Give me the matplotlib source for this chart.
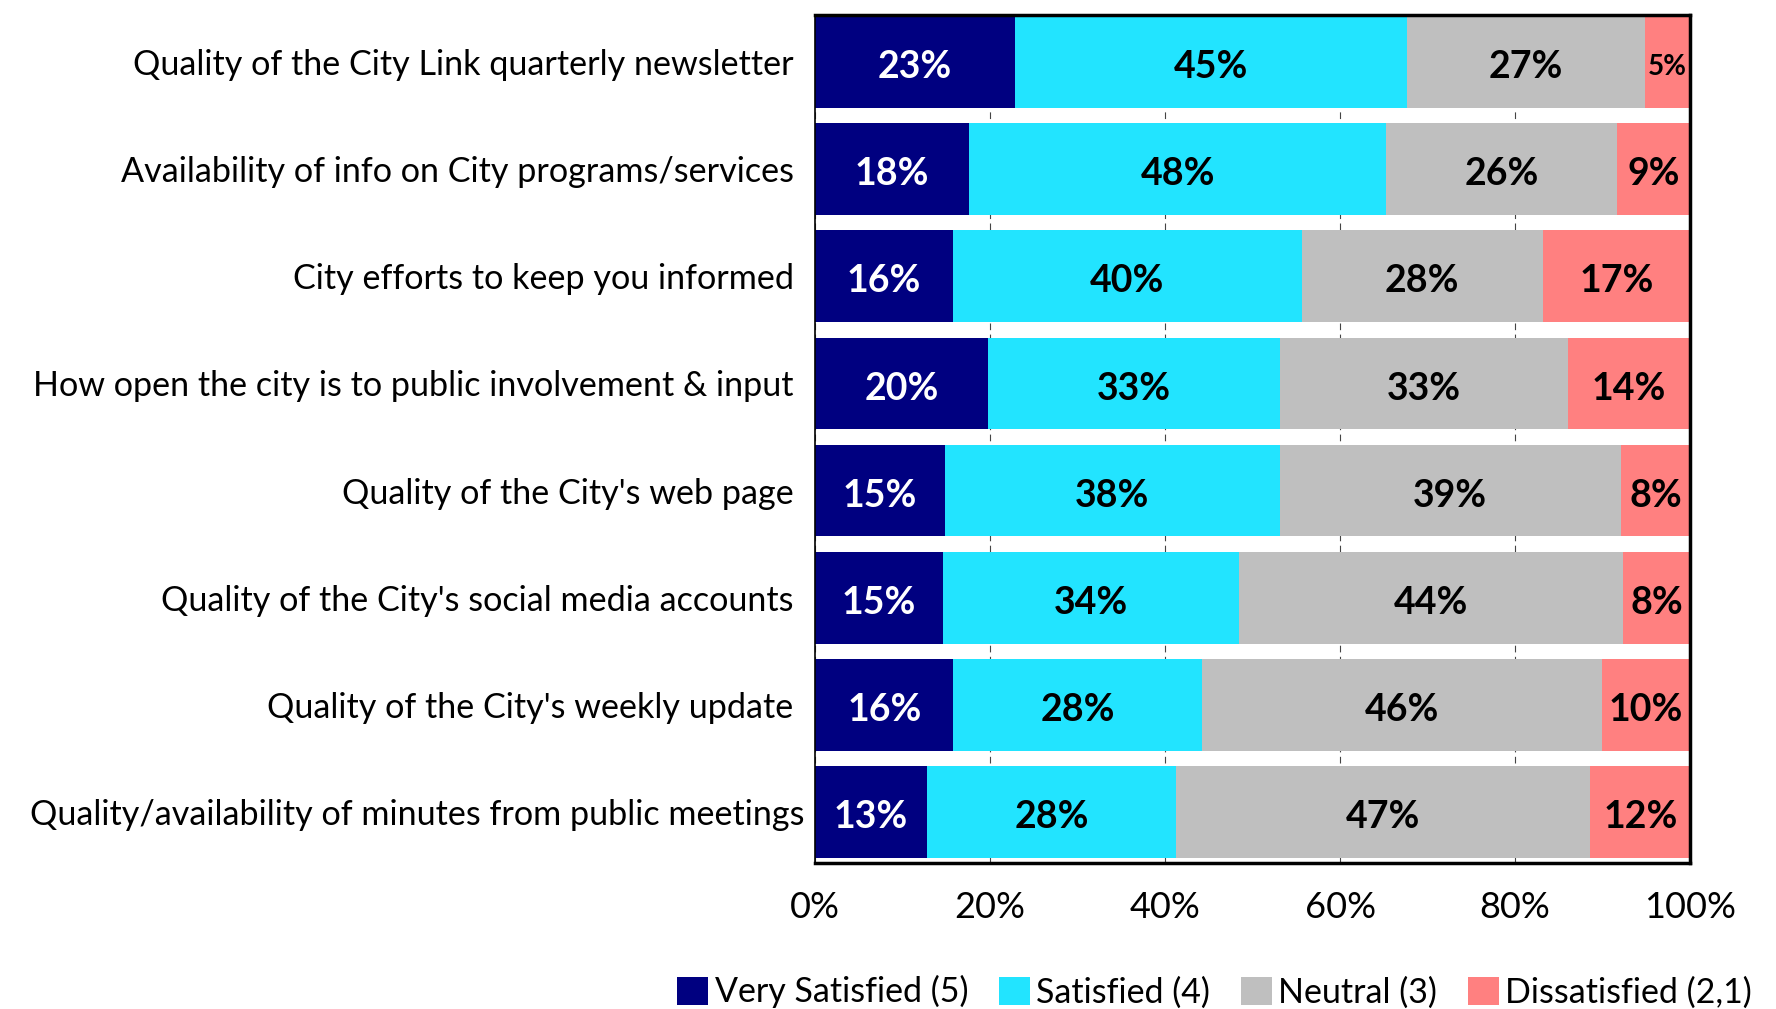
import numpy as np
import matplotlib
matplotlib.use('Agg')
import matplotlib.pyplot as plt
from matplotlib.transforms import ScaledTranslation

plt.rcParams['font.family'] = ['Lato', 'DejaVu Sans']

categories = ["Quality of the City Link quarterly newsletter",
              "Availability of info on City programs/services",
              "City efforts to keep you informed",
              "How open the city is to public involvement & input",
              "Quality of the City's web page",
              "Quality of the City's social media accounts",
              "Quality of the City's weekly update",
              "Quality/availability of minutes from public meetings"]
series = ["Very Satisfied (5)", "Satisfied (4)", "Neutral (3)", "Dissatisfied (2,1)"]
very_satisfied = [22.8, 17.6, 15.7, 19.7, 14.8, 14.6, 15.8, 12.8]
satisfied = [44.8, 47.7, 39.9, 33.4, 38.3, 33.9, 28.4, 28.4]
neutral = [27.2, 26.3, 27.6, 33.0, 39.0, 43.8, 45.7, 47.4]
dissatisfied = [5.2, 8.6, 16.8, 13.9, 7.9, 7.8, 10.1, 11.6]
colors = ['#000080', '#22E4FF', '#BFBFBF', '#FF8080']
text_colors = ['white', 'black', 'black', 'black']

fig = plt.figure(figsize=(17.76, 10.09), dpi=100)
ax = fig.add_axes([0.459, 0.1447, 0.4926, 0.8407])

y = np.arange(len(categories))
left = np.zeros(len(categories))
for vals, col, tc, name in zip([very_satisfied, satisfied, neutral, dissatisfied], colors, text_colors, series):
    vals = np.array(vals)
    ax.barh(y, vals, left=left, height=0.855, color=col, label=name, zorder=2)
    for yi, v, l in zip(y, vals, left):
        fs = 20 if v < 6 else 27
        ax.text(l + v / 2, yi + 0.02, '%.0f%%' % v, ha='center', va='center_baseline',
                color=tc, fontsize=fs, fontweight='bold', zorder=3)
    left += vals

ax.set_xlim(0, 100)
ax.set_ylim(7.475, -0.44)
ax.set_yticks(y)
ax.set_yticklabels(categories, fontsize=24.6)
ax.set_xticks(np.arange(0, 101, 20))
ax.set_xticklabels(['%d%%' % v for v in range(0, 101, 20)], fontsize=26)
ax.tick_params(axis='y', length=0, pad=15.5)
ax.tick_params(axis='x', length=0, pad=20)
# the long last label runs past the others, as in the source chart
last = ax.get_yticklabels()[-1]
last.set_transform(last.get_transform() + ScaledTranslation(0.113, 0, fig.dpi_scale_trans))
ax.grid(axis='x', color='#444444', lw=0.8, ls=(0, (6, 4)), zorder=1)
for s in ax.spines.values():
    s.set_linewidth(2.5)
    s.set_color('black')
ax.spines['left'].set_linewidth(1.2)

fig.legend(loc='center', bbox_to_anchor=(0.684, 0.017), ncol=4, frameon=False,
           fontsize=24.5, handlelength=0.9, handleheight=0.9, handletextpad=0.2,
           columnspacing=0.9)

fig.savefig('out.png', dpi=100)
